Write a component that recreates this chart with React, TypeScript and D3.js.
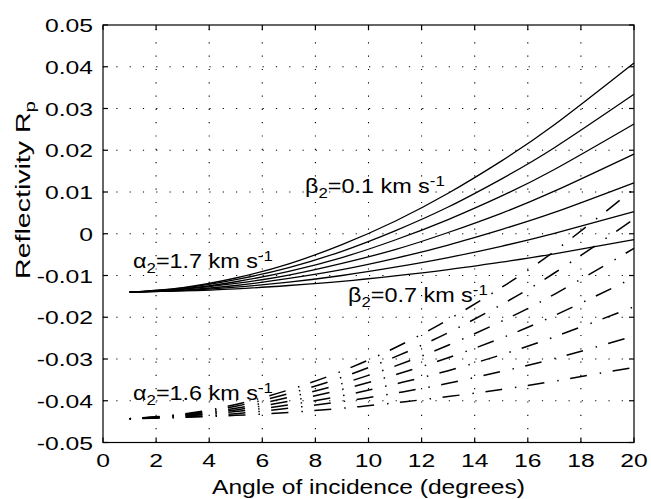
import React from "react";
import * as d3 from "d3";

// ---- data ----
const angles = [1, 3, 5, 7, 9, 11, 13, 15, 17, 20];

// alpha2 = 1.7 km/s family, beta2 = 0.1 ... 0.7 km/s (solid)
const a17_b01 = [-0.0140, -0.0129, -0.0106, -0.0072, -0.0026, 0.0030, 0.0097, 0.0174, 0.0261, 0.0409];
const a17_b02 = [-0.0140, -0.0130, -0.0110, -0.0081, -0.0042, 0.0007, 0.0064, 0.0131, 0.0206, 0.0334];
const a17_b03 = [-0.0140, -0.0132, -0.0115, -0.0090, -0.0057, -0.0015, 0.0034, 0.0090, 0.0154, 0.0263];
const a17_b04 = [-0.0140, -0.0133, -0.0119, -0.0099, -0.0071, -0.0038, 0.0003, 0.0049, 0.0102, 0.0191];
const a17_b05 = [-0.0140, -0.0135, -0.0124, -0.0107, -0.0086, -0.0059, -0.0027, 0.0010, 0.0051, 0.0122];
const a17_b06 = [-0.0140, -0.0136, -0.0128, -0.0116, -0.0100, -0.0080, -0.0057, -0.0030, 0.0001, 0.0053];
const a17_b07 = [-0.0140, -0.0137, -0.0132, -0.0124, -0.0114, -0.0101, -0.0086, -0.0068, -0.0048, -0.0014];

// alpha2 = 1.6 km/s family (dash-dot)
const a16_b01 = [-0.0443, -0.0432, -0.0409, -0.0374, -0.0329, -0.0273, -0.0206, -0.0129, -0.0042, 0.0107];
const a16_b02 = [-0.0443, -0.0433, -0.0413, -0.0383, -0.0344, -0.0295, -0.0237, -0.0170, -0.0094, 0.0035];
const a16_b03 = [-0.0443, -0.0434, -0.0418, -0.0392, -0.0359, -0.0317, -0.0267, -0.0210, -0.0145, -0.0035];
const a16_b04 = [-0.0443, -0.0436, -0.0422, -0.0401, -0.0373, -0.0338, -0.0297, -0.0250, -0.0196, -0.0105];
const a16_b05 = [-0.0443, -0.0437, -0.0426, -0.0410, -0.0388, -0.0360, -0.0328, -0.0290, -0.0247, -0.0175];
const a16_b06 = [-0.0443, -0.0439, -0.0431, -0.0418, -0.0402, -0.0382, -0.0358, -0.0330, -0.0299, -0.0245];
const a16_b07 = [-0.0443, -0.0440, -0.0435, -0.0428, -0.0418, -0.0405, -0.0390, -0.0373, -0.0353, -0.0320];

const xTicks = [0, 2, 4, 6, 8, 10, 12, 14, 16, 18, 20];
const yTicks = [-0.05, -0.04, -0.03, -0.02, -0.01, 0, 0.01, 0.02, 0.03, 0.04, 0.05];
const yTickLabels = ["-0.05", "-0.04", "-0.03", "-0.02", "-0.01", "0", "0.01", "0.02", "0.03", "0.04", "0.05"];

const solidSeries = [a17_b01, a17_b02, a17_b03, a17_b04, a17_b05, a17_b06, a17_b07];
const dashSeries = [a16_b01, a16_b02, a16_b03, a16_b04, a16_b05, a16_b06, a16_b07];

const W = 651, H = 499;
const L = 103, R = 634, T = 25, B = 442.5;
const FONT = "'Liberation Sans', Arial, Helvetica, sans-serif";

function Label({ x, y, anchor = "start", size = 18, sx = 1.2, children, rotate = 0 }: any) {
  return (
    <text
      transform={`translate(${x},${y}) rotate(${rotate}) scale(${sx},1)`}
      textAnchor={anchor}
      fontFamily={FONT}
      fontSize={size}
      fill="#000"
    >
      {children}
    </text>
  );
}

function Annot({ x, y, sym, text }: any) {
  return (
    <Label x={x} y={y} size={19.5} sx={1.2}>
      {sym}
      <tspan fontSize={14} dy={5}>2</tspan>
      <tspan dy={-5}>{text}</tspan>
      <tspan fontSize={14} dy={-7.5}>-1</tspan>
    </Label>
  );
}

export default function App() {
  const x = d3.scaleLinear().domain([0, 20]).range([L, R]);
  const y = d3.scaleLinear().domain([-0.05, 0.05]).range([B, T]);
  const line = d3
    .line<number>()
    .x((_, i) => x(angles[i]))
    .y((d) => y(d))
    .curve(d3.curveNatural);

  const tk = 5;
  const gridDash = "1.2,12.1";

  return (
    <svg width={W} height={H} style={{ position: "absolute", left: 0, top: 0, background: "#fff" }}>
      <rect x={0} y={0} width={W} height={H} fill="#fff" />
      {/* grid */}
      {xTicks.slice(1, -1).map((t) => (
        <line key={"gx" + t} x1={x(t)} x2={x(t)} y1={B} y2={T} stroke="#000" strokeWidth={1.1} strokeDasharray={gridDash} />
      ))}
      {yTicks.slice(1, -1).map((t) => (
        <line key={"gy" + t} x1={L} x2={R} y1={y(t)} y2={y(t)} stroke="#000" strokeWidth={1.1} strokeDasharray={gridDash} />
      ))}
      {/* curves */}
      {solidSeries.map((s, i) => (
        <path key={"s" + i} d={line(s) || ""} fill="none" stroke="#000" strokeWidth={1.3} />
      ))}
      {dashSeries.map((s, i) => (
        <path key={"d" + i} d={line(s) || ""} fill="none" stroke="#000" strokeWidth={1.5} strokeDasharray="1.5,11.5,17,13" />
      ))}
      {/* frame + ticks */}
      <rect x={L} y={T} width={R - L} height={B - T} fill="none" stroke="#000" strokeWidth={1.2} />
      {xTicks.map((t) => (
        <g key={"tx" + t}>
          <line x1={x(t)} x2={x(t)} y1={B} y2={B - tk} stroke="#000" strokeWidth={1.2} />
          <line x1={x(t)} x2={x(t)} y1={T} y2={T + tk} stroke="#000" strokeWidth={1.2} />
          <Label x={x(t)} y={467} anchor="middle" size={19} sx={1.3}>{String(t)}</Label>
        </g>
      ))}
      {yTicks.map((t, i) => (
        <g key={"ty" + t}>
          <line x1={L} x2={L + tk} y1={y(t)} y2={y(t)} stroke="#000" strokeWidth={1.2} />
          <line x1={R} x2={R - tk} y1={y(t)} y2={y(t)} stroke="#000" strokeWidth={1.2} />
          <Label x={93} y={y(t) + 7} anchor="end" size={19} sx={1.3}>{yTickLabels[i]}</Label>
        </g>
      ))}
      {/* axis titles */}
      <Label x={(L + R) / 2} y={494} anchor="middle" size={20.5} sx={1.2}>Angle of incidence (degrees)</Label>
      <Label x={30} y={190} anchor="middle" size={21} sx={1.36} rotate={-90}>
        Reflectivity R<tspan fontSize={15} dy={5}>p</tspan>
      </Label>
      {/* annotations */}
      <Annot x={305} y={193} sym="β" text="=0.1 km s" />
      <Annot x={133} y={268} sym="α" text="=1.7 km s" />
      <Annot x={348} y={302} sym="β" text="=0.7 km s" />
      <Annot x={133} y={400} sym="α" text="=1.6 km s" />
    </svg>
  );
}
